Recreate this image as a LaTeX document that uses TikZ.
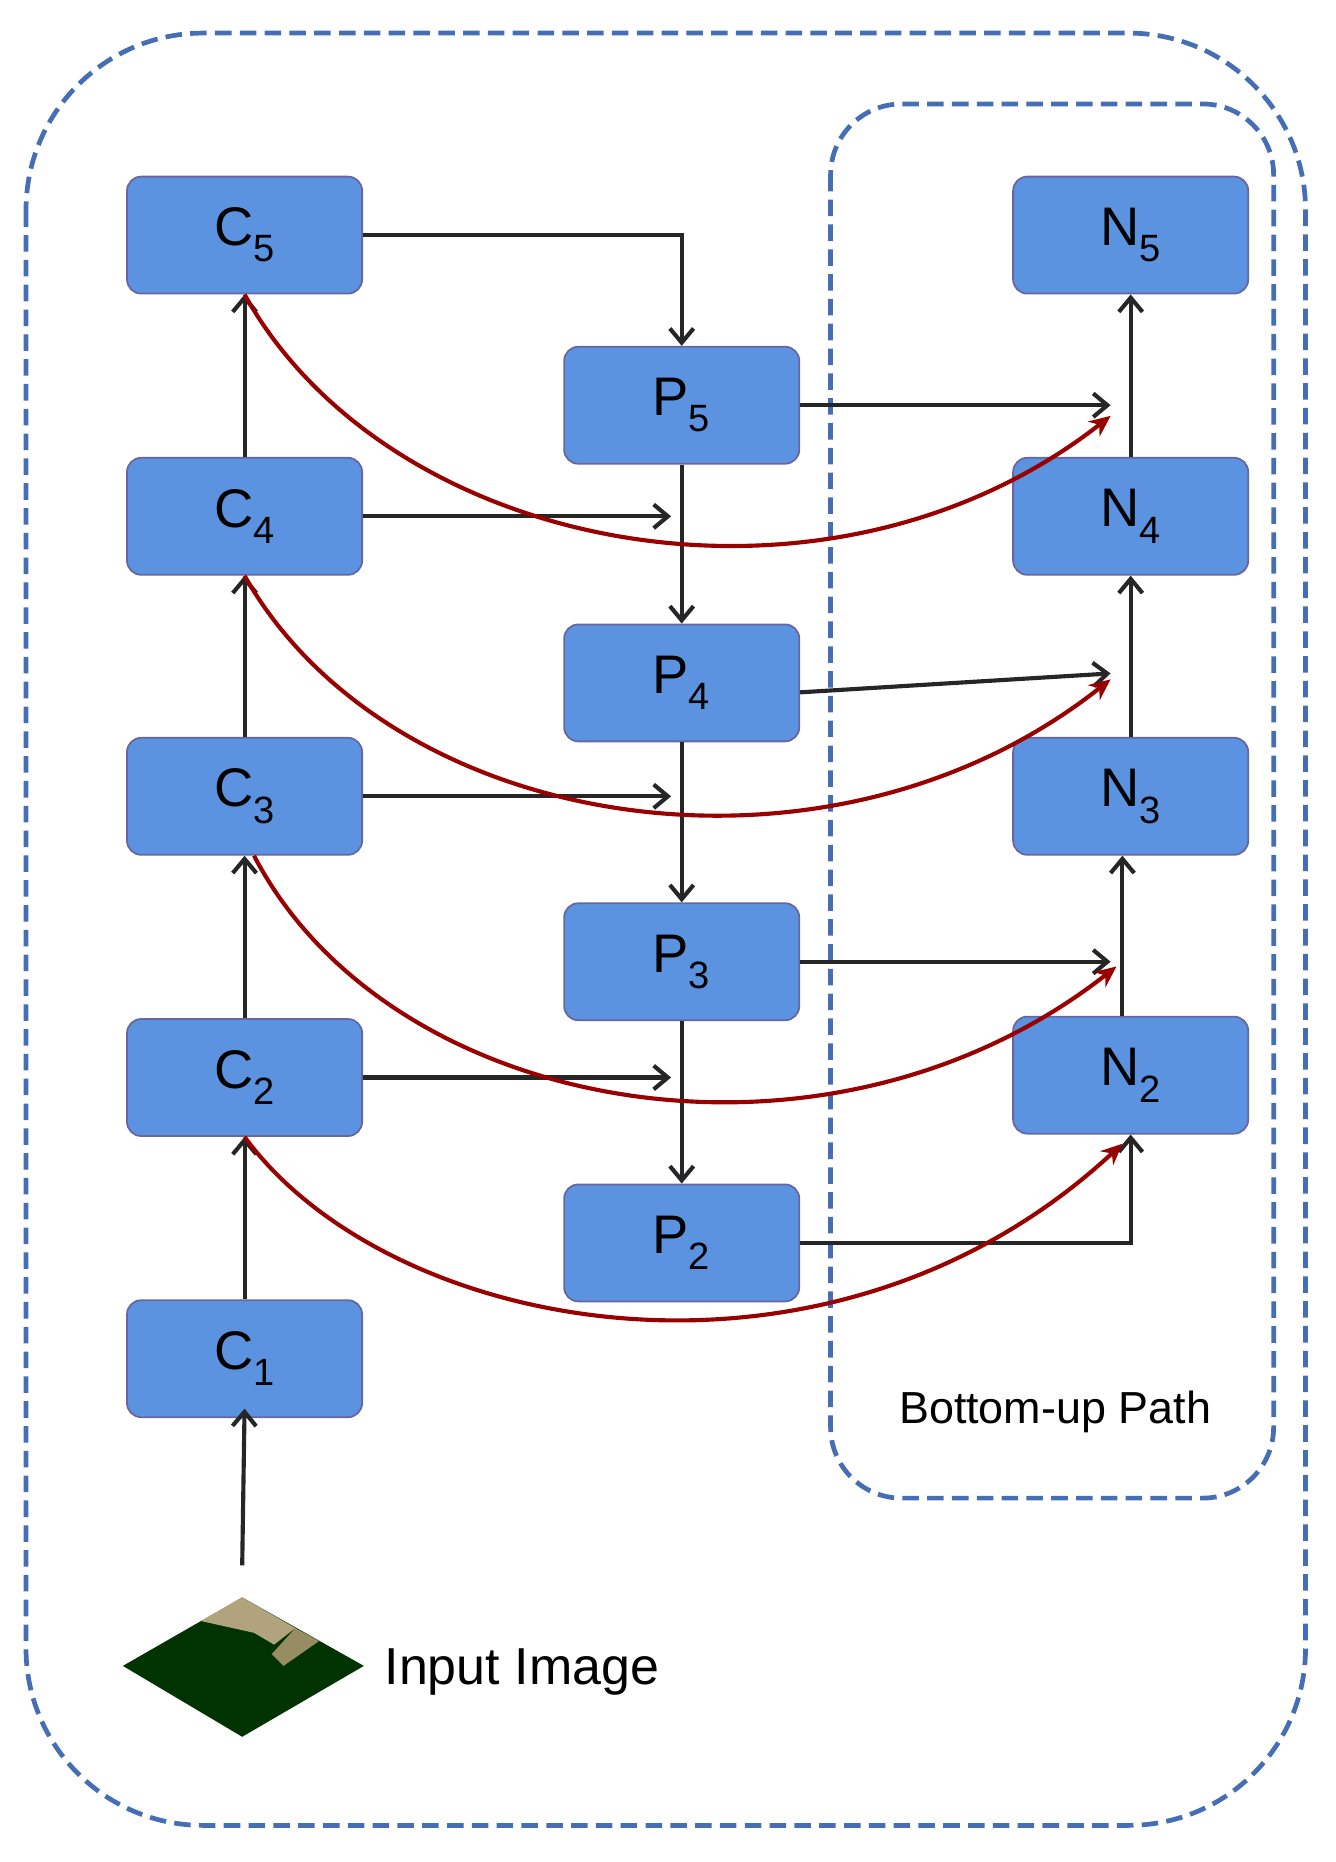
\documentclass[tikz,border=0pt]{standalone}
\usetikzlibrary{arrows.meta}
\usepackage{fontspec}
\setmainfont{Liberation Sans}
\begin{document}
\begin{tikzpicture}[x=1pt,y=-1pt,
  blk/.style={draw=blue!40!black!60,fill={rgb,255:red,91;green,147;blue,224},rounded corners=12pt,minimum width=199pt,minimum height=99pt,line width=1.5pt,font=\fontsize{46}{50}\selectfont},
  ar/.style={->,>={Straight Barb[length=12pt,width=20pt,line width=3.5pt]},line width=3.5pt,black!85},
  ra/.style={->,>={Stealth[length=18pt,width=16pt]},line width=3.5pt,red!60!black},
  dsh/.style={draw={rgb,255:red,70;green,110;blue,180},dashed,dash pattern=on 14pt off 7pt,line width=4pt}]
\useasboundingbox (0,0) rectangle (1130,1576);
\draw[dsh,rounded corners=150pt] (22,28) rectangle (1105,1545);
\draw[dsh,rounded corners=60pt] (703,88) rectangle (1078,1268);
\node[blk] (C5) at (207,199) {C\textsubscript{5}};
\node[blk] (C4) at (207,437) {C\textsubscript{4}};
\node[blk] (C3) at (207,674) {C\textsubscript{3}};
\node[blk] (C2) at (207,912) {C\textsubscript{2}};
\node[blk] (C1) at (207,1150) {C\textsubscript{1}};
\node[blk] (P5) at (577,343) {P\textsubscript{5}};
\node[blk] (P4) at (577,578) {P\textsubscript{4}};
\node[blk] (P3) at (577,814) {P\textsubscript{3}};
\node[blk] (P2) at (577,1052) {P\textsubscript{2}};
\node[blk] (N5) at (957,199) {N\textsubscript{5}};
\node[blk] (N4) at (957,437) {N\textsubscript{4}};
\node[blk] (N3) at (957,674) {N\textsubscript{3}};
\node[blk] (N2) at (957,910) {N\textsubscript{2}};
% input image
\coordinate (img) at (205,1325);
\fill[green!20!black] (205,1352) -- (308,1410) -- (205,1470) -- (104,1410) -- cycle;
\fill[brown!50!white,opacity=.8] (170,1372) -- (205,1352) -- (250,1378) -- (232,1392) -- (215,1382) -- cycle;
\fill[brown!60!white,opacity=.7] (250,1378) -- (270,1389) -- (240,1410) -- (230,1400) -- cycle;
\node[font=\fontsize{44}{48}\selectfont,anchor=west] (inp) at (322,1415) {Input Image};
\node[font=\fontsize{38}{42}\selectfont] (bu) at (893,1195) {Bottom-up Path};
% backbone
\draw[ar] (img) -- ([yshift=8pt]C1.south);
\draw[ar] (C1) -- (C2);
\draw[ar] (C2) -- (C3);
\draw[ar] (C3) -- (C4);
\draw[ar] (C4) -- (C5);
% top-down
\draw[ar] (C5.east) -| (P5.north);
\draw[ar] (P5) -- (P4);
\draw[ar] (P4) -- (P3);
\draw[ar] (P3) -- (P2);
\coordinate (m4) at (568,437); \coordinate (m3) at (568,674); \coordinate (m2) at (568,912);
\draw[ar] (C4.east) -- (m4);
\draw[ar] (C3.east) -- (m3);
\draw[ar] (C2.east) -- (m2);
% bottom-up
\coordinate (n5) at (940,343); \coordinate (n4) at (940,570); \coordinate (n3) at (940,814);
\draw[ar] (P5.east) -- (n5);
\draw[ar] ([yshift=-8pt]P4.east) -- (n4);
\draw[ar] (P3.east) -- (n3);
\draw[ar] (P2.east) -| (N2.south);
\draw[ar] ([xshift=-7pt]N2.north) -- ([xshift=-7pt]N3.south);
\draw[ar] (N3) -- (N4);
\draw[ar] (N4) -- (N5);
% red skip curves
\coordinate (r5) at (940,352); \coordinate (r4) at (940,575); \coordinate (r3) at (945,818); \coordinate (r2) at (950,968);
\draw[ra] (C5.south) .. controls (330,470) and (700,540) .. (r5);
\draw[ra] (C4.south) .. controls (330,705) and (700,765) .. (r4);
\draw[ra] ([xshift=8pt]C3.south) .. controls (330,945) and (700,1010) .. (r3);
\draw[ra] (C2.south) .. controls (330,1130) and (700,1200) .. (r2);
\end{tikzpicture}
\end{document}
